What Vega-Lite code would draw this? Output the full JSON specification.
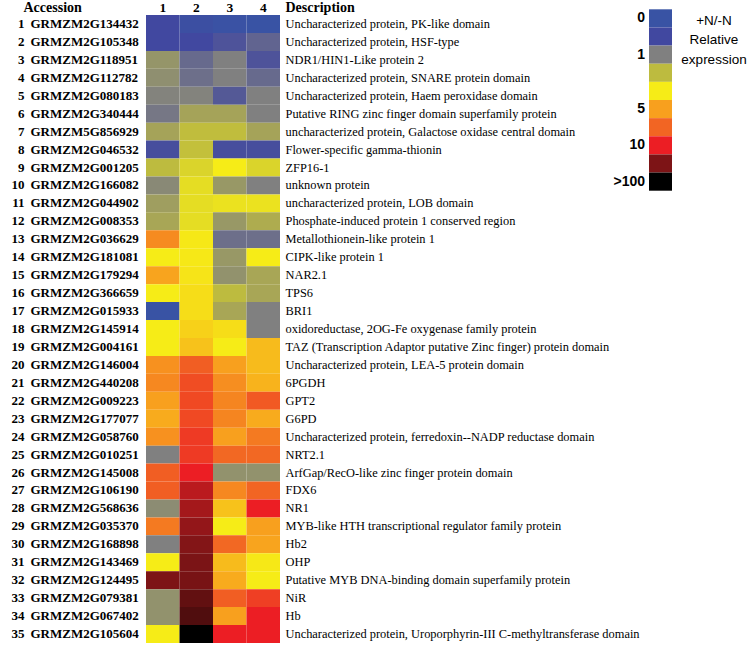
{
  "$schema": "https://vega.github.io/schema/vega-lite/v6.json",
  "autosize": "none",
  "width": 134,
  "height": 628,
  "padding": {"left": 146, "top": 15, "right": 470, "bottom": 2},
  "background": "white",
  "config": {"view": {"stroke": null}, "axis": {"labelColor": "black", "titleColor": "black", "grid": false}},
  "datasets": {
    "genes": [
      {"n": 1, "acc": "GRMZM2G134432", "desc": "Uncharacterized protein, PK-like domain"},
      {"n": 2, "acc": "GRMZM2G105348", "desc": "Uncharacterized protein, HSF-type"},
      {"n": 3, "acc": "GRMZM2G118951", "desc": "NDR1/HIN1-Like protein 2"},
      {"n": 4, "acc": "GRMZM2G112782", "desc": "Uncharacterized protein, SNARE protein domain"},
      {"n": 5, "acc": "GRMZM2G080183", "desc": "Uncharacterized protein, Haem peroxidase domain"},
      {"n": 6, "acc": "GRMZM2G340444", "desc": "Putative RING zinc finger domain superfamily protein"},
      {"n": 7, "acc": "GRMZM5G856929", "desc": "uncharacterized protein, Galactose oxidase central domain"},
      {"n": 8, "acc": "GRMZM2G046532", "desc": "Flower-specific gamma-thionin"},
      {"n": 9, "acc": "GRMZM2G001205", "desc": "ZFP16-1"},
      {"n": 10, "acc": "GRMZM2G166082", "desc": "unknown protein"},
      {"n": 11, "acc": "GRMZM2G044902", "desc": "uncharacterized protein, LOB domain"},
      {"n": 12, "acc": "GRMZM2G008353", "desc": "Phosphate-induced protein 1 conserved region"},
      {"n": 13, "acc": "GRMZM2G036629", "desc": "Metallothionein-like protein 1"},
      {"n": 14, "acc": "GRMZM2G181081", "desc": "CIPK-like protein 1"},
      {"n": 15, "acc": "GRMZM2G179294", "desc": "NAR2.1"},
      {"n": 16, "acc": "GRMZM2G366659", "desc": "TPS6"},
      {"n": 17, "acc": "GRMZM2G015933", "desc": "BRI1"},
      {"n": 18, "acc": "GRMZM2G145914", "desc": "oxidoreductase, 2OG-Fe oxygenase family protein"},
      {"n": 19, "acc": "GRMZM2G004161", "desc": "TAZ (Transcription Adaptor putative Zinc finger) protein domain"},
      {"n": 20, "acc": "GRMZM2G146004", "desc": "Uncharacterized protein, LEA-5 protein domain"},
      {"n": 21, "acc": "GRMZM2G440208", "desc": "6PGDH"},
      {"n": 22, "acc": "GRMZM2G009223", "desc": "GPT2"},
      {"n": 23, "acc": "GRMZM2G177077", "desc": "G6PD"},
      {"n": 24, "acc": "GRMZM2G058760", "desc": "Uncharacterized protein, ferredoxin--NADP reductase domain"},
      {"n": 25, "acc": "GRMZM2G010251", "desc": "NRT2.1"},
      {"n": 26, "acc": "GRMZM2G145008", "desc": "\u00a0ArfGap/RecO-like zinc finger protein domain"},
      {"n": 27, "acc": "GRMZM2G106190", "desc": "FDX6"},
      {"n": 28, "acc": "GRMZM2G568636", "desc": "NR1"},
      {"n": 29, "acc": "GRMZM2G035370", "desc": "MYB-like HTH transcriptional regulator family protein"},
      {"n": 30, "acc": "GRMZM2G168898", "desc": "Hb2"},
      {"n": 31, "acc": "GRMZM2G143469", "desc": "OHP"},
      {"n": 32, "acc": "GRMZM2G124495", "desc": "Putative MYB DNA-binding domain superfamily protein"},
      {"n": 33, "acc": "GRMZM2G079381", "desc": "NiR"},
      {"n": 34, "acc": "GRMZM2G067402", "desc": "Hb"},
      {"n": 35, "acc": "GRMZM2G105604", "desc": "Uncharacterized protein, Uroporphyrin-III C-methyltransferase domain"}
    ],
    "cells": [
      {"n": 1, "col": "1", "v": 0.5}, {"n": 1, "col": "2", "v": 0.2}, {"n": 1, "col": "3", "v": 0.05}, {"n": 1, "col": "4", "v": 0},
      {"n": 2, "col": "1", "v": 0.5}, {"n": 2, "col": "2", "v": 0.5}, {"n": 2, "col": "3", "v": 0.6}, {"n": 2, "col": "4", "v": 0.75},
      {"n": 3, "col": "1", "v": 1.35}, {"n": 3, "col": "2", "v": 0.8}, {"n": 3, "col": "3", "v": 1.0}, {"n": 3, "col": "4", "v": 0.6},
      {"n": 4, "col": "1", "v": 1.25}, {"n": 4, "col": "2", "v": 0.85}, {"n": 4, "col": "3", "v": 1.0}, {"n": 4, "col": "4", "v": 0.8},
      {"n": 5, "col": "1", "v": 1.05}, {"n": 5, "col": "2", "v": 1.05}, {"n": 5, "col": "3", "v": 0.65}, {"n": 5, "col": "4", "v": 1.0},
      {"n": 6, "col": "1", "v": 0.92}, {"n": 6, "col": "2", "v": 1.6}, {"n": 6, "col": "3", "v": 1.6}, {"n": 6, "col": "4", "v": 1.0},
      {"n": 7, "col": "1", "v": 1.6}, {"n": 7, "col": "2", "v": 2.05}, {"n": 7, "col": "3", "v": 2.05}, {"n": 7, "col": "4", "v": 1.6},
      {"n": 8, "col": "1", "v": 0.55}, {"n": 8, "col": "2", "v": 2.1}, {"n": 8, "col": "3", "v": 0.55}, {"n": 8, "col": "4", "v": 0.55},
      {"n": 9, "col": "1", "v": 2.0}, {"n": 9, "col": "2", "v": 2.5}, {"n": 9, "col": "3", "v": 3.0}, {"n": 9, "col": "4", "v": 2.5},
      {"n": 10, "col": "1", "v": 1.15}, {"n": 10, "col": "2", "v": 2.7}, {"n": 10, "col": "3", "v": 1.4}, {"n": 10, "col": "4", "v": 1.0},
      {"n": 11, "col": "1", "v": 1.5}, {"n": 11, "col": "2", "v": 2.7}, {"n": 11, "col": "3", "v": 2.8}, {"n": 11, "col": "4", "v": 2.8},
      {"n": 12, "col": "1", "v": 1.65}, {"n": 12, "col": "2", "v": 2.7}, {"n": 12, "col": "3", "v": 1.4}, {"n": 12, "col": "4", "v": 1.75},
      {"n": 13, "col": "1", "v": 5.7}, {"n": 13, "col": "2", "v": 3.1}, {"n": 13, "col": "3", "v": 0.85}, {"n": 13, "col": "4", "v": 0.85},
      {"n": 14, "col": "1", "v": 3.0}, {"n": 14, "col": "2", "v": 3.1}, {"n": 14, "col": "3", "v": 1.4}, {"n": 14, "col": "4", "v": 3.0},
      {"n": 15, "col": "1", "v": 4.9}, {"n": 15, "col": "2", "v": 3.2}, {"n": 15, "col": "3", "v": 1.3}, {"n": 15, "col": "4", "v": 1.65},
      {"n": 16, "col": "1", "v": 3.0}, {"n": 16, "col": "2", "v": 3.4}, {"n": 16, "col": "3", "v": 2.0}, {"n": 16, "col": "4", "v": 1.65},
      {"n": 17, "col": "1", "v": 0.0}, {"n": 17, "col": "2", "v": 3.4}, {"n": 17, "col": "3", "v": 1.65}, {"n": 17, "col": "4", "v": 1.0},
      {"n": 18, "col": "1", "v": 3.0}, {"n": 18, "col": "2", "v": 3.7}, {"n": 18, "col": "3", "v": 3.4}, {"n": 18, "col": "4", "v": 1.0},
      {"n": 19, "col": "1", "v": 3.0}, {"n": 19, "col": "2", "v": 4.1}, {"n": 19, "col": "3", "v": 3.0}, {"n": 19, "col": "4", "v": 4.3},
      {"n": 20, "col": "1", "v": 5.5}, {"n": 20, "col": "2", "v": 7.3}, {"n": 20, "col": "3", "v": 5.0}, {"n": 20, "col": "4", "v": 4.3},
      {"n": 21, "col": "1", "v": 5.8}, {"n": 21, "col": "2", "v": 8.0}, {"n": 21, "col": "3", "v": 5.6}, {"n": 21, "col": "4", "v": 4.5},
      {"n": 22, "col": "1", "v": 5.0}, {"n": 22, "col": "2", "v": 8.2}, {"n": 22, "col": "3", "v": 5.9}, {"n": 22, "col": "4", "v": 7.5},
      {"n": 23, "col": "1", "v": 4.7}, {"n": 23, "col": "2", "v": 8.2}, {"n": 23, "col": "3", "v": 5.9}, {"n": 23, "col": "4", "v": 4.7},
      {"n": 24, "col": "1", "v": 5.5}, {"n": 24, "col": "2", "v": 8.8}, {"n": 24, "col": "3", "v": 5.0}, {"n": 24, "col": "4", "v": 6.3},
      {"n": 25, "col": "1", "v": 1.0}, {"n": 25, "col": "2", "v": 8.8}, {"n": 25, "col": "3", "v": 6.9}, {"n": 25, "col": "4", "v": 6.9},
      {"n": 26, "col": "1", "v": 7.3}, {"n": 26, "col": "2", "v": 10}, {"n": 26, "col": "3", "v": 1.3}, {"n": 26, "col": "4", "v": 1.3},
      {"n": 27, "col": "1", "v": 7.3}, {"n": 27, "col": "2", "v": 19}, {"n": 27, "col": "3", "v": 5.8}, {"n": 27, "col": "4", "v": 7.0},
      {"n": 28, "col": "1", "v": 1.2}, {"n": 28, "col": "2", "v": 23}, {"n": 28, "col": "3", "v": 4.1}, {"n": 28, "col": "4", "v": 10},
      {"n": 29, "col": "1", "v": 6.3}, {"n": 29, "col": "2", "v": 26}, {"n": 29, "col": "3", "v": 3.0}, {"n": 29, "col": "4", "v": 5.0},
      {"n": 30, "col": "1", "v": 1.0}, {"n": 30, "col": "2", "v": 29}, {"n": 30, "col": "3", "v": 6.9}, {"n": 30, "col": "4", "v": 4.9},
      {"n": 31, "col": "1", "v": 3.0}, {"n": 31, "col": "2", "v": 31}, {"n": 31, "col": "3", "v": 4.3}, {"n": 31, "col": "4", "v": 3.1},
      {"n": 32, "col": "1", "v": 30}, {"n": 32, "col": "2", "v": 33}, {"n": 32, "col": "3", "v": 4.7}, {"n": 32, "col": "4", "v": 3.0},
      {"n": 33, "col": "1", "v": 1.3}, {"n": 33, "col": "2", "v": 45}, {"n": 33, "col": "3", "v": 7.3}, {"n": 33, "col": "4", "v": 8.6},
      {"n": 34, "col": "1", "v": 1.3}, {"n": 34, "col": "2", "v": 55}, {"n": 34, "col": "3", "v": 5.0}, {"n": 34, "col": "4", "v": 10},
      {"n": 35, "col": "1", "v": 3.0}, {"n": 35, "col": "2", "v": 100}, {"n": 35, "col": "3", "v": 10}, {"n": 35, "col": "4", "v": 10}
    ],
    "legend": [
      {"k": "L", "b": 1, "v": 0, "lab": "0", "t": "+N/-N\nRelative\nexpression"},
      {"k": "L", "b": 2, "v": 0.5, "lab": "", "t": ""},
      {"k": "L", "b": 3, "v": 1, "lab": "1", "t": ""},
      {"k": "L", "b": 4, "v": 2, "lab": "", "t": ""},
      {"k": "L", "b": 5, "v": 3, "lab": "", "t": ""},
      {"k": "L", "b": 6, "v": 5, "lab": "5", "t": ""},
      {"k": "L", "b": 7, "v": 7, "lab": "", "t": ""},
      {"k": "L", "b": 8, "v": 10, "lab": "10", "t": ""},
      {"k": "L", "b": 9, "v": 30, "lab": "", "t": ""},
      {"k": "L", "b": 10, "v": 100, "lab": ">100", "t": ""}
    ]
  },
  "resolve": {"scale": {"x": "independent", "y": "independent"}},
  "layer": [
    {
      "data": {"name": "cells"},
      "transform": [
        {"lookup": "n", "from": {"data": {"name": "genes"}, "key": "n", "fields": ["acc", "desc"]}},
        {"calculate": "datum.n + '|' + datum.acc + '|' + datum.desc", "as": "key"}
      ],
      "mark": {"type": "rect", "strokeWidth": 0},
      "encoding": {
        "x": {"field": "col", "type": "nominal", "axis": {"orient": "top", "labelAngle": 0, "labelPadding": 1, "ticks": false, "tickSize": 0, "domain": false, "title": null, "labelFont": "Times New Roman, Liberation Serif, DejaVu Serif, serif", "labelFontWeight": 700, "labelFontSize": 13.5, "labelColor": "black"}},
        "y": {"field": "key", "type": "nominal", "sort": {"field": "n", "op": "min"}, "axis": {"orient": "left", "labelExpr": "split(datum.value, '|')[1]", "labelAlign": "left", "labelBaseline": "middle", "labelPadding": 116, "labelOverlap": false, "ticks": false, "tickSize": 0, "domain": false, "labelFont": "Times New Roman, Liberation Serif, DejaVu Serif, serif", "labelFontWeight": 700, "labelFontSize": 13, "labelColor": "black", "title": "Accession", "titleAngle": 0, "titleAlign": "left", "titleBaseline": "alphabetic", "titleX": -123, "titleY": -4, "titleFont": "Times New Roman, Liberation Serif, DejaVu Serif, serif", "titleFontSize": 14, "titleFontWeight": 700, "titleColor": "black"}},
        "color": {"field": "v", "type": "quantitative", "legend": null, "scale": {"type": "linear", "domain": [0, 0.5, 1, 2, 3, 5, 7, 10, 30, 100], "range": ["#3953a4", "#4148a0", "#808080", "#bdbb3f", "#f6ec17", "#f8a01e", "#f26523", "#ec1e24", "#7d1416", "#000000"], "interpolate": "rgb"}}
      }
    },
    {
      "data": {"name": "genes"},
      "transform": [{"calculate": "datum.n + '|' + datum.acc + '|' + datum.desc", "as": "key"}],
      "mark": {"type": "rect", "opacity": 0},
      "encoding": {
        "y": {"field": "key", "type": "nominal", "sort": {"field": "n", "op": "min"}, "axis": {"orient": "left", "labelExpr": "split(datum.value, '|')[0]", "labelAlign": "right", "labelBaseline": "middle", "labelPadding": 122, "labelOverlap": false, "ticks": false, "tickSize": 0, "domain": false, "labelFont": "Times New Roman, Liberation Serif, DejaVu Serif, serif", "labelFontWeight": 700, "labelFontSize": 13, "labelColor": "black", "title": null}}
      }
    },
    {
      "data": {"name": "genes"},
      "transform": [{"calculate": "datum.n + '|' + datum.acc + '|' + datum.desc", "as": "key"}],
      "mark": {"type": "rect", "opacity": 0},
      "encoding": {
        "y": {"field": "key", "type": "nominal", "sort": {"field": "n", "op": "min"}, "axis": {"orient": "right", "labelExpr": "split(datum.value, '|')[2]", "labelAlign": "left", "labelBaseline": "middle", "labelPadding": 5, "labelLimit": 0, "labelOverlap": false, "ticks": false, "tickSize": 0, "domain": false, "labelFont": "Times New Roman, Liberation Serif, DejaVu Serif, serif", "labelFontSize": 12.4, "labelColor": "black", "title": "Description", "titleAngle": 0, "titleAlign": "left", "titleBaseline": "alphabetic", "titleX": 5, "titleY": -4, "titleFont": "Times New Roman, Liberation Serif, DejaVu Serif, serif", "titleFontSize": 14, "titleFontWeight": 700, "titleColor": "black"}}
      }
    },
    {
      "data": {"name": "legend"},
      "mark": {"type": "rect", "strokeWidth": 0},
      "encoding": {
        "x": {"field": "k", "type": "nominal", "scale": {"range": [503, 526]}, "axis": null},
        "y": {"field": "b", "type": "ordinal", "scale": {"range": [-5.7, 175.7]}, "axis": null},
        "color": {"field": "v", "type": "quantitative", "legend": null, "scale": {"type": "linear", "domain": [0, 0.5, 1, 2, 3, 5, 7, 10, 30, 100], "range": ["#3953a4", "#4148a0", "#808080", "#bdbb3f", "#f6ec17", "#f8a01e", "#f26523", "#ec1e24", "#7d1416", "#000000"], "interpolate": "rgb"}}
      }
    },
    {
      "data": {"name": "legend"},
      "mark": {"type": "text", "align": "right", "baseline": "middle", "dx": -15.5, "font": "Liberation Sans", "fontWeight": "bold", "fontSize": 14, "color": "black"},
      "encoding": {
        "x": {"field": "k", "type": "nominal", "scale": {"range": [503, 526]}, "axis": null},
        "y": {"field": "b", "type": "ordinal", "scale": {"range": [-5.7, 175.7]}, "axis": null},
        "text": {"field": "lab"}
      }
    },
    {
      "data": {"name": "legend"},
      "mark": {"type": "text", "align": "center", "baseline": "top", "dx": 53.5, "dy": -4.4, "lineBreak": "\n", "lineHeight": 19.5, "font": "Liberation Sans", "fontSize": 13.5, "color": "black"},
      "encoding": {
        "x": {"field": "k", "type": "nominal", "scale": {"range": [503, 526]}, "axis": null},
        "y": {"field": "b", "type": "ordinal", "scale": {"range": [-5.7, 175.7]}, "axis": null},
        "text": {"field": "t"}
      }
    }
  ]
}
